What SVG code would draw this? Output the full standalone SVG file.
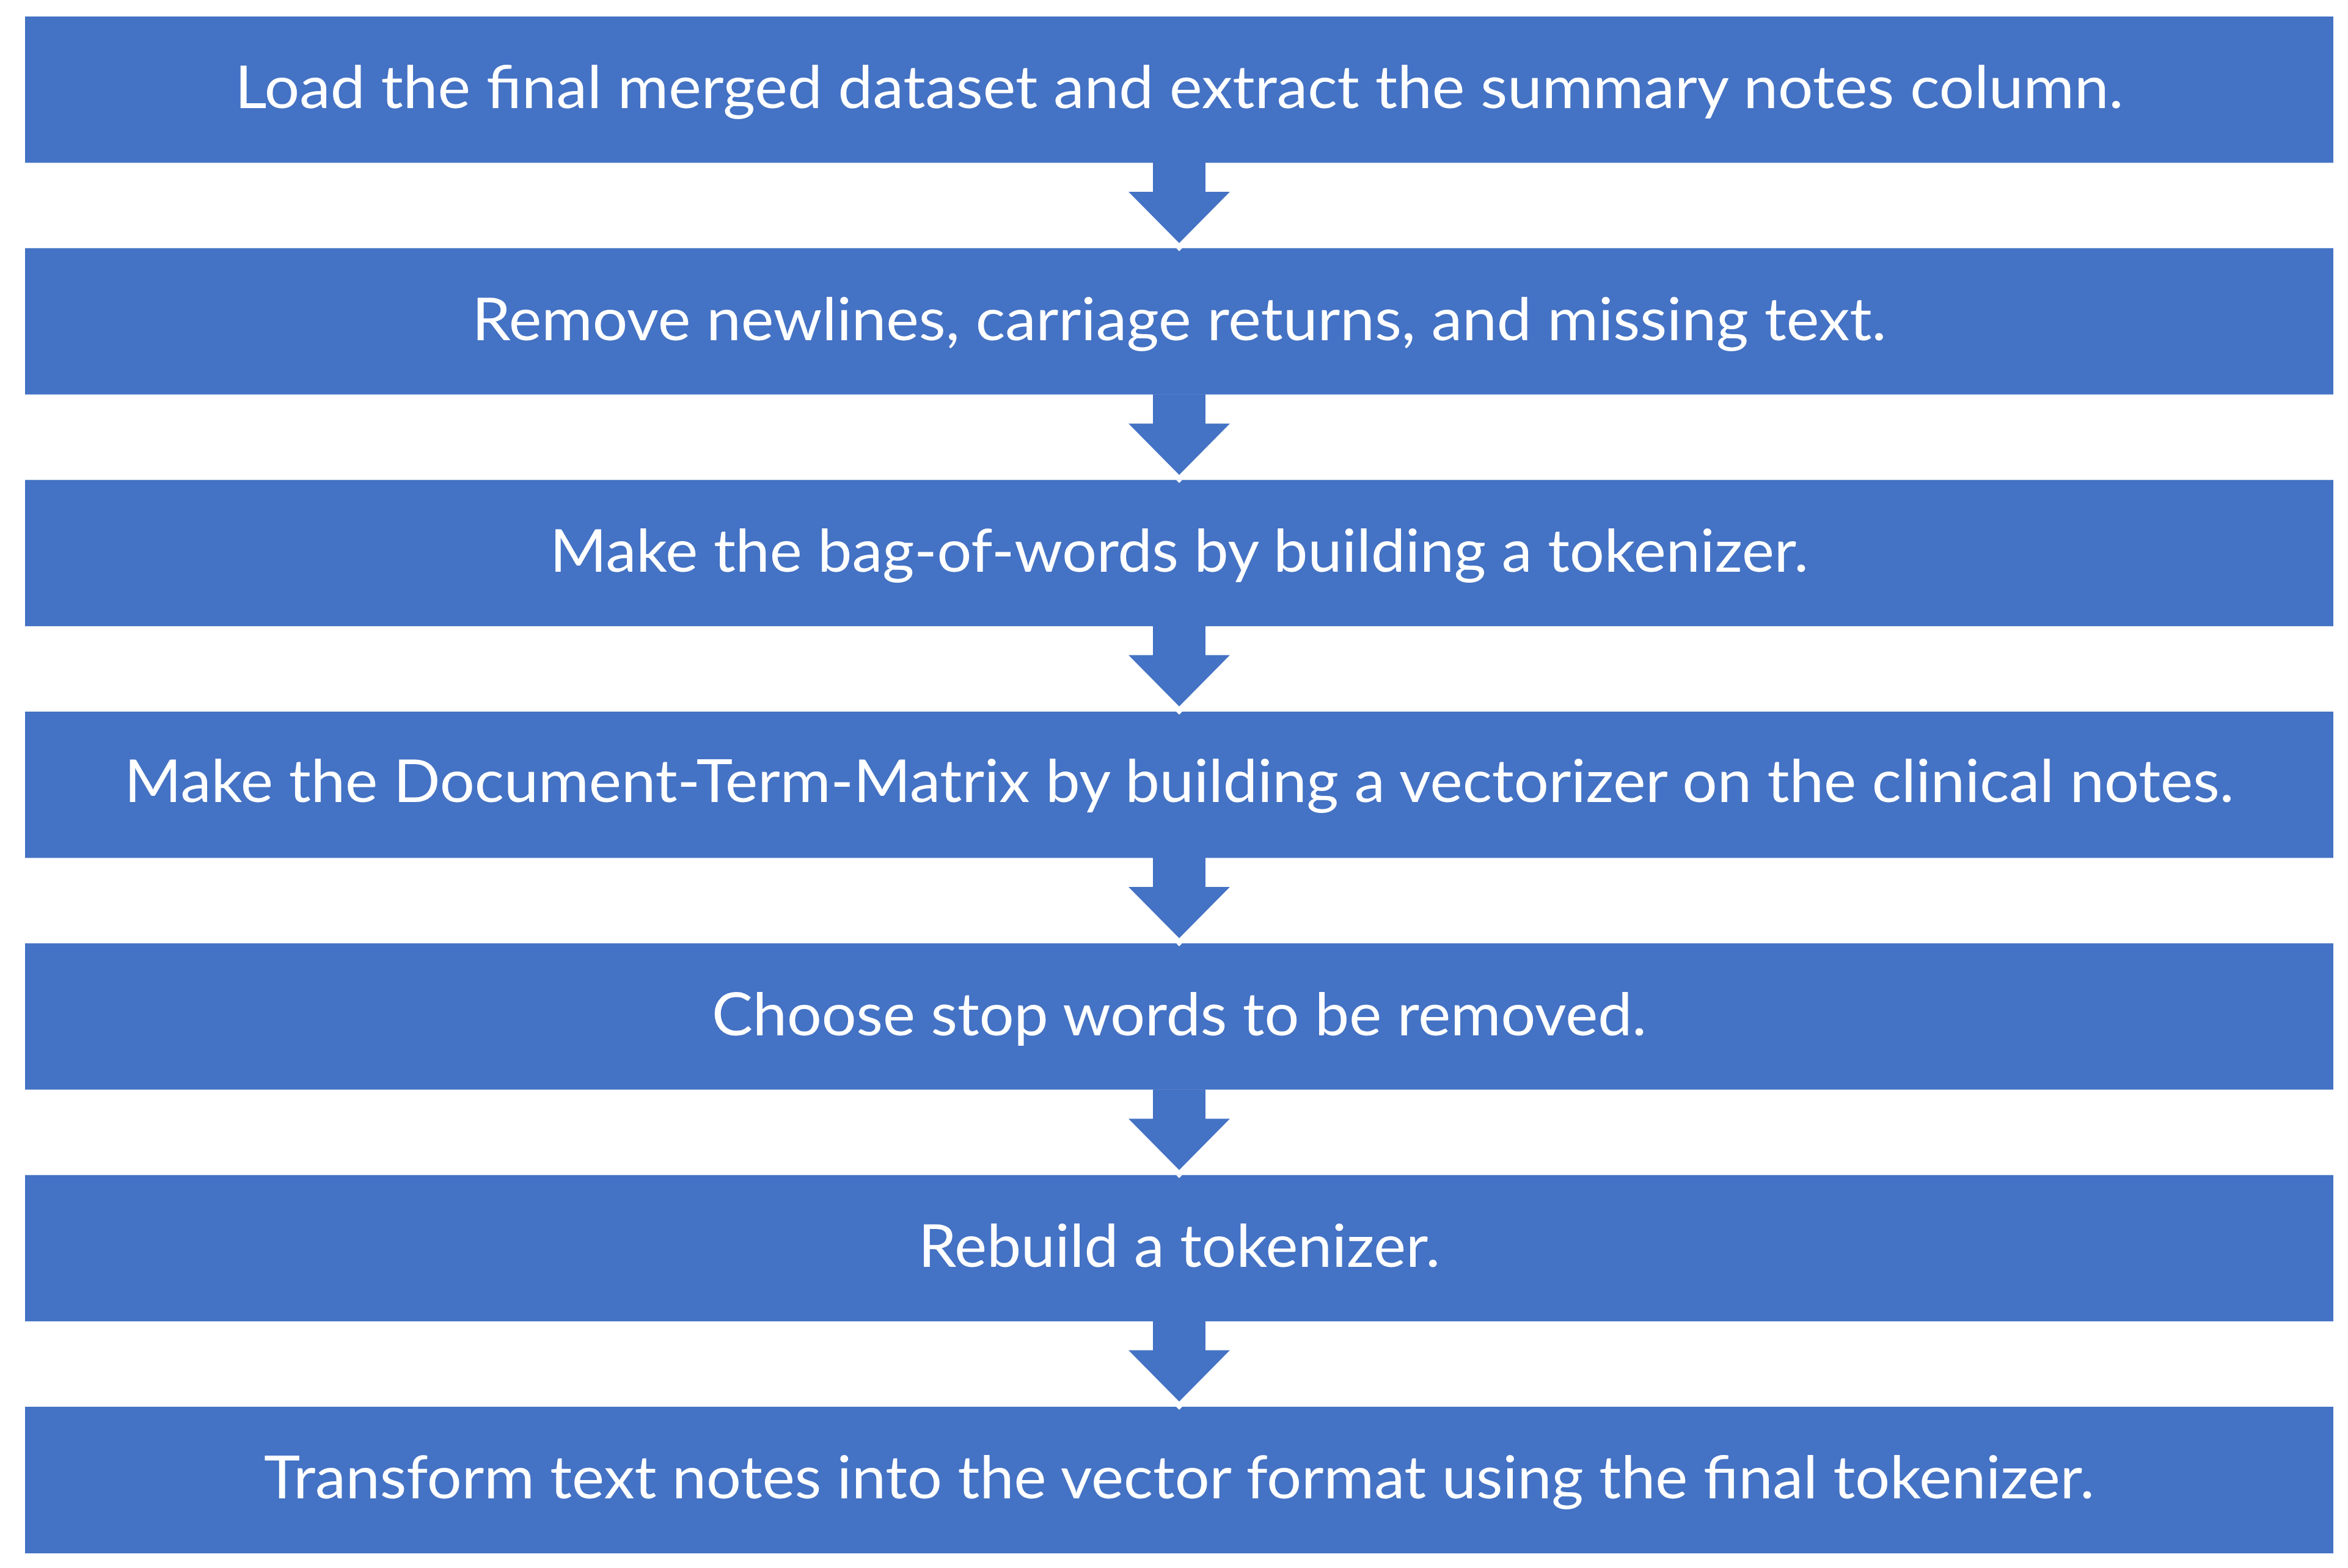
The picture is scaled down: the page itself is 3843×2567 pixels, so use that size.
<svg xmlns="http://www.w3.org/2000/svg" width="3843" height="2567" viewBox="0 0 3843 2567">
<style>
.box{fill:#4472C4}
.lbl{fill:#FFFFFF;font-family:Lato,"Open Sans","Liberation Sans",sans-serif;font-size:96px;text-anchor:middle}
.arr{fill:#4472C4}
.notch{fill:#FFFFFF}
</style>
<defs>
<polygon id="arrowShape" points="1887,0 1973,0 1973,48 2013,48 1930,132 1847,48 1887,48"/>
<polygon id="notchShape" points="1925,0 1935,0 1930,5"/>
</defs>
<rect width="3843" height="2567" fill="#FFFFFF"/>
<g id="connectors">
<use href="#arrowShape" class="arr" y="266"/>
<use href="#arrowShape" class="arr" y="645.5"/>
<use href="#arrowShape" class="arr" y="1024.5"/>
<use href="#arrowShape" class="arr" y="1404"/>
<use href="#arrowShape" class="arr" y="1783.5"/>
<use href="#arrowShape" class="arr" y="2162.5"/>
</g>
<g id="node1"><rect class="box" x="41" y="27" width="3778" height="239.5"/><text class="lbl" x="1930" y="177" textLength="3091" lengthAdjust="spacingAndGlyphs">Load the final merged dataset and extract the summary notes column.</text></g>
<g id="node2"><rect class="box" x="41" y="406.3" width="3778" height="239.5"/><text class="lbl" x="1930" y="556.5" textLength="2315" lengthAdjust="spacingAndGlyphs">Remove newlines, carriage returns, and missing text.</text></g>
<g id="node3"><rect class="box" x="41" y="785.7" width="3778" height="239.5"/><text class="lbl" x="1930" y="935.5" textLength="2060" lengthAdjust="spacingAndGlyphs">Make the bag-of-words by building a tokenizer.</text></g>
<g id="node4"><rect class="box" x="41" y="1165" width="3778" height="239.5"/><text class="lbl" x="1930" y="1313" textLength="3453" lengthAdjust="spacingAndGlyphs">Make the Document-Term-Matrix by building a vectorizer on the clinical notes.</text></g>
<g id="node5"><rect class="box" x="41" y="1544.3" width="3778" height="239.5"/><text class="lbl" x="1930" y="1694.5" textLength="1530" lengthAdjust="spacingAndGlyphs">Choose stop words to be removed.</text></g>
<g id="node6"><rect class="box" x="41" y="1923.7" width="3778" height="239.5"/><text class="lbl" x="1930" y="2073.5" textLength="854" lengthAdjust="spacingAndGlyphs">Rebuild a tokenizer.</text></g>
<g id="node7"><rect class="box" x="41" y="2303" width="3778" height="240"/><text class="lbl" x="1930" y="2453" textLength="2996" lengthAdjust="spacingAndGlyphs">Transform text notes into the vector format using the final tokenizer.</text></g>
<g id="notches">
<use href="#notchShape" class="notch" y="406.3"/>
<use href="#notchShape" class="notch" y="785.7"/>
<use href="#notchShape" class="notch" y="1165"/>
<use href="#notchShape" class="notch" y="1544.3"/>
<use href="#notchShape" class="notch" y="1923.7"/>
<use href="#notchShape" class="notch" y="2303"/>
</g>
</svg>
